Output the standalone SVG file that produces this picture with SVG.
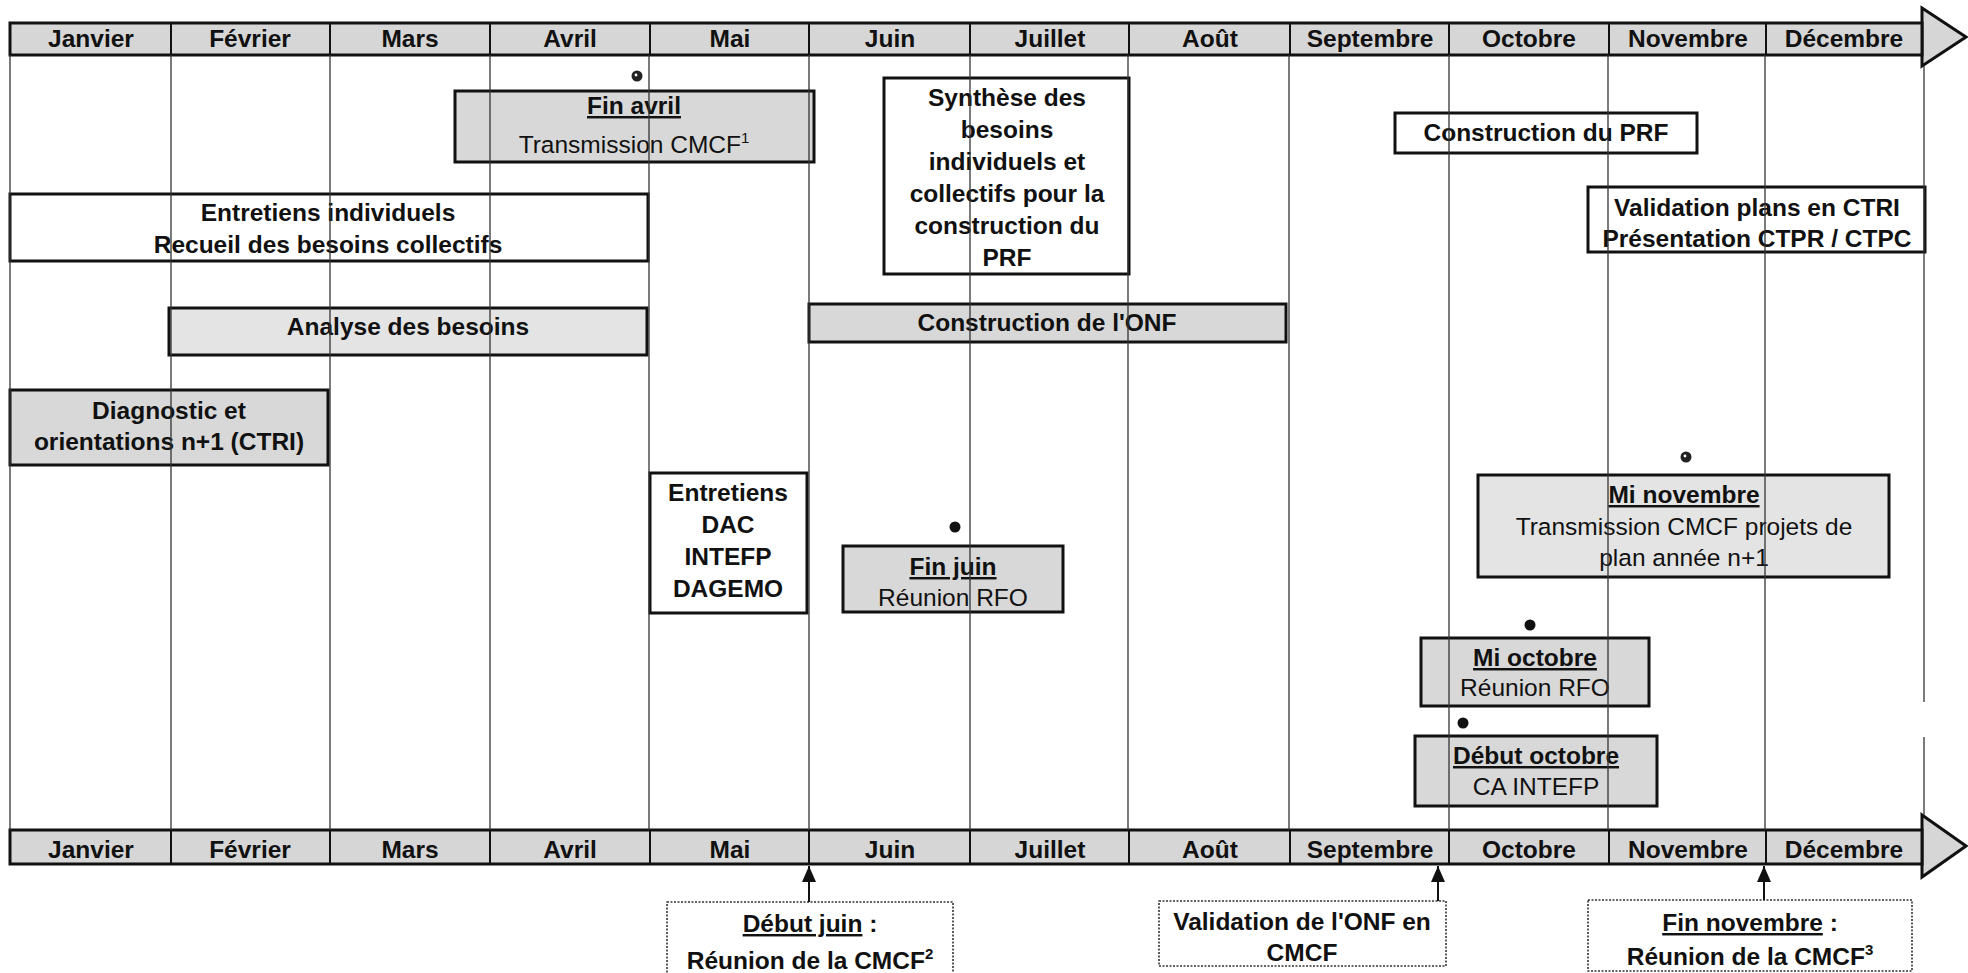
<svg xmlns="http://www.w3.org/2000/svg" width="1968" height="973" viewBox="0 0 1968 973">
<defs>
<style>
.bar{fill:#d6d6d6;stroke:#111;stroke-width:3}
.div{stroke:#111;stroke-width:2}
.grid{stroke:#333;stroke-width:1.3}
.box{stroke:#111;stroke-width:3}
.g1{fill:#d8d8d8}
.g2{fill:#e4e4e4}
.w{fill:#ffffff}
.dbox{fill:#fff;stroke:#333;stroke-width:1.6;stroke-dasharray:2 1.5}
text{font-family:"Liberation Sans",Arial,sans-serif;font-size:24.5px;text-anchor:middle;fill:#111}
.b{font-weight:bold}
.u{text-decoration:underline}
.sup{font-size:15px}
.dot{fill:#111}
.sym{fill:#222}
.conn{stroke:#111;stroke-width:2;fill:none}
</style>
<marker id="arr" viewBox="0 0 16 14" refX="16" refY="7" markerWidth="16" markerHeight="14" markerUnits="userSpaceOnUse" orient="auto">
<path d="M0,0 L16,7 L0,14 z" fill="#111"/>
</marker>
</defs>
<rect width="1968" height="973" fill="#fff"/>

<g id="timeline-top">
<polygon class="bar" points="1922,8 1966,37 1922,66"/>
<rect class="bar" x="10" y="23" width="1912" height="32"/>
<line class="div" x1="171" y1="23" x2="171" y2="55"/>
<line class="div" x1="330" y1="23" x2="330" y2="55"/>
<line class="div" x1="490" y1="23" x2="490" y2="55"/>
<line class="div" x1="650" y1="23" x2="650" y2="55"/>
<line class="div" x1="809" y1="23" x2="809" y2="55"/>
<line class="div" x1="970" y1="23" x2="970" y2="55"/>
<line class="div" x1="1129" y1="23" x2="1129" y2="55"/>
<line class="div" x1="1290" y1="23" x2="1290" y2="55"/>
<line class="div" x1="1449" y1="23" x2="1449" y2="55"/>
<line class="div" x1="1609" y1="23" x2="1609" y2="55"/>
<line class="div" x1="1766" y1="23" x2="1766" y2="55"/>
<text class="b" x="91" y="47">Janvier</text>
<text class="b" x="250" y="47">Février</text>
<text class="b" x="410" y="47">Mars</text>
<text class="b" x="570" y="47">Avril</text>
<text class="b" x="730" y="47">Mai</text>
<text class="b" x="890" y="47">Juin</text>
<text class="b" x="1050" y="47">Juillet</text>
<text class="b" x="1210" y="47">Août</text>
<text class="b" x="1370" y="47">Septembre</text>
<text class="b" x="1529" y="47">Octobre</text>
<text class="b" x="1688" y="47">Novembre</text>
<text class="b" x="1844" y="47">Décembre</text>
</g>

<g id="timeline-bottom">
<polygon class="bar" points="1922,815 1966,846 1922,877"/>
<rect class="bar" x="10" y="830" width="1912" height="34"/>
<line class="div" x1="171" y1="830" x2="171" y2="864"/>
<line class="div" x1="330" y1="830" x2="330" y2="864"/>
<line class="div" x1="490" y1="830" x2="490" y2="864"/>
<line class="div" x1="650" y1="830" x2="650" y2="864"/>
<line class="div" x1="809" y1="830" x2="809" y2="864"/>
<line class="div" x1="970" y1="830" x2="970" y2="864"/>
<line class="div" x1="1129" y1="830" x2="1129" y2="864"/>
<line class="div" x1="1290" y1="830" x2="1290" y2="864"/>
<line class="div" x1="1449" y1="830" x2="1449" y2="864"/>
<line class="div" x1="1609" y1="830" x2="1609" y2="864"/>
<line class="div" x1="1766" y1="830" x2="1766" y2="864"/>
<text class="b" x="91" y="858">Janvier</text>
<text class="b" x="250" y="858">Février</text>
<text class="b" x="410" y="858">Mars</text>
<text class="b" x="570" y="858">Avril</text>
<text class="b" x="730" y="858">Mai</text>
<text class="b" x="890" y="858">Juin</text>
<text class="b" x="1050" y="858">Juillet</text>
<text class="b" x="1210" y="858">Août</text>
<text class="b" x="1370" y="858">Septembre</text>
<text class="b" x="1529" y="858">Octobre</text>
<text class="b" x="1688" y="858">Novembre</text>
<text class="b" x="1844" y="858">Décembre</text>
</g>

<g id="fin-avril">
<circle class="sym" cx="637" cy="76" r="5.5"/><circle cx="636" cy="75" r="1.4" fill="#fff"/>
<rect class="box g1" x="455" y="91" width="359" height="71"/>
<text class="b u" x="634" y="114">Fin avril</text>
<text x="634" y="153">Transmission CMCF<tspan class="sup" dy="-10">1</tspan></text>
</g>

<g id="entretiens-individuels">
<rect class="box w" x="10" y="194" width="638" height="67"/>
<text class="b" x="328" y="221">Entretiens individuels</text>
<text class="b" x="328" y="253">Recueil des besoins collectifs</text>
</g>

<g id="analyse-besoins">
<rect class="box g2" x="169" y="308" width="478" height="47"/>
<text class="b" x="408" y="335">Analyse des besoins</text>
</g>

<g id="diagnostic">
<rect class="box g1" x="10" y="390" width="318" height="75"/>
<text class="b" x="169" y="419">Diagnostic et</text>
<text class="b" x="169" y="450">orientations n+1 (CTRI)</text>
</g>

<g id="synthese">
<rect class="box w" x="884" y="78" width="245" height="196"/>
<text class="b" x="1007" y="106">Synthèse des</text>
<text class="b" x="1007" y="138">besoins</text>
<text class="b" x="1007" y="170">individuels et</text>
<text class="b" x="1007" y="202">collectifs pour la</text>
<text class="b" x="1007" y="234">construction du</text>
<text class="b" x="1007" y="266">PRF</text>
</g>

<g id="construction-onf">
<rect class="box g1" x="809" y="304" width="477" height="38"/>
<text class="b" x="1047" y="331">Construction de l'ONF</text>
</g>

<g id="construction-prf">
<rect class="box w" x="1395" y="113" width="302" height="40"/>
<text class="b" x="1546" y="141">Construction du PRF</text>
</g>

<g id="validation-plans">
<rect class="box w" x="1588" y="187" width="337" height="65"/>
<text class="b" x="1757" y="216">Validation plans en CTRI</text>
<text class="b" x="1757" y="247">Présentation CTPR / CTPC</text>
</g>

<g id="entretiens-dac">
<rect class="box w" x="650" y="473" width="157" height="140"/>
<text class="b" x="728" y="501">Entretiens</text>
<text class="b" x="728" y="533">DAC</text>
<text class="b" x="728" y="565">INTEFP</text>
<text class="b" x="728" y="597">DAGEMO</text>
</g>

<g id="fin-juin">
<circle class="dot" cx="955" cy="527" r="5.5"/>
<rect class="box g1" x="843" y="546" width="220" height="66"/>
<text class="b u" x="953" y="575">Fin juin</text>
<text x="953" y="606">Réunion RFO</text>
</g>

<g id="mi-novembre">
<circle class="sym" cx="1686" cy="457" r="5.5"/><circle cx="1685" cy="456" r="1.4" fill="#fff"/>
<rect class="box g2" x="1478" y="475" width="411" height="102"/>
<text class="b u" x="1684" y="503">Mi novembre</text>
<text x="1684" y="535">Transmission CMCF projets de</text>
<text x="1684" y="566">plan année n+1</text>
</g>

<g id="mi-octobre">
<circle class="dot" cx="1530" cy="625" r="5.5"/>
<rect class="box g1" x="1421" y="638" width="228" height="68"/>
<text class="b u" x="1535" y="666">Mi octobre</text>
<text x="1535" y="696">Réunion RFO</text>
</g>

<g id="debut-octobre">
<circle class="dot" cx="1463" cy="723" r="5.5"/>
<rect class="box g1" x="1415" y="736" width="242" height="70"/>
<text class="b u" x="1536" y="764">Début octobre</text>
<text x="1536" y="795">CA INTEFP</text>
</g>

<g id="debut-juin">
<rect class="dbox" x="667" y="902" width="286" height="80"/>
<text class="b" x="810" y="932"><tspan class="u">Début juin</tspan> :</text>
<text class="b" x="810" y="969">Réunion de la CMCF<tspan class="sup" dy="-10">2</tspan></text>
</g>

<g id="validation-onf">
<rect class="dbox" x="1159" y="901" width="287" height="65"/>
<text class="b" x="1302" y="930">Validation de l'ONF en</text>
<text class="b" x="1302" y="961">CMCF</text>
</g>

<g id="fin-novembre">
<rect class="dbox" x="1588" y="900" width="324" height="71"/>
<text class="b" x="1750" y="931"><tspan class="u">Fin novembre</tspan> :</text>
<text class="b" x="1750" y="965">Réunion de la CMCF<tspan class="sup" dy="-10">3</tspan></text>
</g>

<g id="grid">
<line class="grid" x1="10" y1="55" x2="10" y2="830"/>
<line class="grid" x1="171" y1="55" x2="171" y2="830"/>
<line class="grid" x1="330" y1="55" x2="330" y2="830"/>
<line class="grid" x1="490" y1="55" x2="490" y2="830"/>
<line class="grid" x1="649" y1="55" x2="649" y2="830"/>
<line class="grid" x1="809" y1="55" x2="809" y2="830"/>
<line class="grid" x1="970" y1="55" x2="970" y2="830"/>
<line class="grid" x1="1128" y1="55" x2="1128" y2="830"/>
<line class="grid" x1="1289" y1="55" x2="1289" y2="830"/>
<line class="grid" x1="1449" y1="55" x2="1449" y2="830"/>
<line class="grid" x1="1608" y1="55" x2="1608" y2="830"/>
<line class="grid" x1="1765" y1="55" x2="1765" y2="830"/>
<line class="grid" x1="1924" y1="66" x2="1924" y2="702"/>
<line class="grid" x1="1924" y1="737" x2="1924" y2="815"/>
</g>

<g id="connectors">
<line class="conn" x1="809" y1="902" x2="809" y2="866" marker-end="url(#arr)"/>
<line class="conn" x1="1438" y1="901" x2="1438" y2="866" marker-end="url(#arr)"/>
<line class="conn" x1="1764" y1="900" x2="1764" y2="866" marker-end="url(#arr)"/>
</g>
</svg>
